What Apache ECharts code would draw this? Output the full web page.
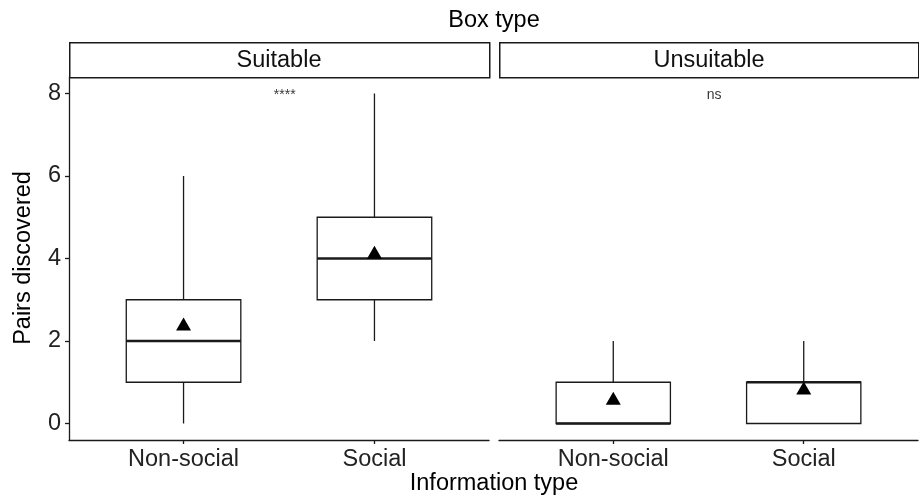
<!DOCTYPE html>
<html>
<head>
    <meta charset="utf-8">
    <title>Pairs discovered</title>
    <script src="https://cdn.jsdelivr.net/npm/echarts@6/dist/echarts.min.js"></script>
    <style>
        html, body { margin: 0; padding: 0; background: #fff; }
        #main { width: 919px; height: 499px; }
    </style>
</head>
<body>
    <div id="main"></div>
    <script type="text/javascript">
        var categories = ['Non-social', 'Social'];
        var panels = ['Suitable', 'Unsuitable'];
        var yTicks = [0, 2, 4, 6, 8];
        // [x, lower whisker, Q1, median, Q3, upper whisker]
        var suitableBoxes = [[1, 0, 1, 2, 3, 6], [2, 2, 3, 4, 5, 8]];
        var unsuitableBoxes = [[1, 0, 0, 0, 1, 2], [2, 0, 0, 1, 1, 2]];
        // mean markers
        var suitableMeans = [[1, 2.41], [2, 4.15]];
        var unsuitableMeans = [[1, 0.61], [2, 0.86]];
        // significance labels
        var suitableSig = [[1.53, 7.95, '****']];
        var unsuitableSig = [[1.53, 7.95, 'ns']];

        var FONT = "'Liberation Sans', Arial, sans-serif";
        var FS = 23.5;
        var INK = '#1a1a1a';

        var myChart = echarts.init(document.getElementById('main'));

        function renderBox(params, api) {
            var x = api.value(0);
            var lo = api.value(1), q1 = api.value(2), med = api.value(3), q3 = api.value(4), hi = api.value(5);
            var w = api.size([0.6, 0])[0];
            var pLo = api.coord([x, lo]), pQ1 = api.coord([x, q1]), pMed = api.coord([x, med]);
            var pQ3 = api.coord([x, q3]), pHi = api.coord([x, hi]);
            var lineStyle = { stroke: INK, lineWidth: 1.3, fill: null };
            var children = [];
            if (hi > q3) {
                children.push({ type: 'line', shape: { x1: pQ3[0], y1: pQ3[1], x2: pHi[0], y2: pHi[1] }, style: lineStyle });
            }
            if (lo < q1) {
                children.push({ type: 'line', shape: { x1: pLo[0], y1: pLo[1], x2: pQ1[0], y2: pQ1[1] }, style: lineStyle });
            }
            children.push({
                type: 'rect',
                shape: { x: pQ1[0] - w / 2, y: pQ3[1], width: w, height: pQ1[1] - pQ3[1] },
                style: { stroke: INK, lineWidth: 1.3, fill: '#fff' }
            });
            children.push({
                type: 'line',
                shape: { x1: pMed[0] - w / 2, y1: pMed[1], x2: pMed[0] + w / 2, y2: pMed[1] },
                style: { stroke: INK, lineWidth: 2.6 }
            });
            return { type: 'group', children: children };
        }

        function xAxisFor(gridIndex) {
            return {
                type: 'value',
                gridIndex: gridIndex,
                min: 0.4,
                max: 2.6,
                splitLine: { show: false },
                axisLine: { show: true, onZero: false, lineStyle: { color: INK, width: 1.3 } },
                axisTick: { show: true, length: 4, customValues: [1, 2], lineStyle: { color: INK, width: 1.3 } },
                axisLabel: {
                    customValues: [1, 2],
                    margin: 8,
                    color: '#222',
                    fontSize: FS,
                    fontFamily: FONT,
                    formatter: function (v) { return categories[Math.round(v) - 1]; }
                }
            };
        }

        function yAxisFor(gridIndex, visible) {
            return {
                type: 'value',
                gridIndex: gridIndex,
                min: -0.4,
                max: 8.4,
                splitLine: { show: false },
                axisLine: { show: visible, onZero: false, lineStyle: { color: INK, width: 1.3 } },
                axisTick: { show: visible, length: 4, customValues: yTicks, lineStyle: { color: INK, width: 1.3 } },
                axisLabel: {
                    show: visible,
                    customValues: yTicks,
                    margin: 8,
                    color: '#222',
                    fontSize: FS,
                    fontFamily: FONT
                }
            };
        }

        function sigSeries(idx, data) {
            return {
                type: 'scatter',
                xAxisIndex: idx,
                yAxisIndex: idx,
                data: data,
                symbolSize: 0,
                silent: true,
                label: {
                    show: true,
                    position: 'inside',
                    color: '#000',
                    fontSize: 14,
                    fontFamily: FONT,
                    formatter: function (p) { return p.value[2]; }
                }
            };
        }

        function meanSeries(idx, data) {
            return {
                type: 'scatter',
                xAxisIndex: idx,
                yAxisIndex: idx,
                data: data,
                symbol: 'triangle',
                symbolSize: [15, 13],
                itemStyle: { color: '#000', opacity: 1 },
                z: 5
            };
        }

        var option = {
            animation: false,
            textStyle: { fontFamily: FONT },
            grid: [
                { left: 69, right: 430, top: 77, bottom: 59 },
                { left: 499, right: 1, top: 77, bottom: 59 }
            ],
            xAxis: [xAxisFor(0), xAxisFor(1)],
            yAxis: [yAxisFor(0, true), yAxisFor(1, false)],
            graphic: [
                { type: 'text', x: 494, y: 21, style: { text: 'Box type', fontSize: FS, fontFamily: FONT, fill: '#000', align: 'center', verticalAlign: 'middle' } },
                { type: 'rect', left: 69, top: 42, shape: { width: 420, height: 35 }, style: { fill: '#fff', stroke: INK, lineWidth: 1.5 } },
                { type: 'rect', left: 499, top: 42, shape: { width: 419, height: 35 }, style: { fill: '#fff', stroke: INK, lineWidth: 1.5 } },
                { type: 'text', x: 279, y: 61, style: { text: panels[0], fontSize: FS, fontFamily: FONT, fill: '#111', align: 'center', verticalAlign: 'middle' } },
                { type: 'text', x: 709, y: 61, style: { text: panels[1], fontSize: FS, fontFamily: FONT, fill: '#111', align: 'center', verticalAlign: 'middle' } },
                { type: 'text', x: 494, y: 484, style: { text: 'Information type', fontSize: FS, fontFamily: FONT, fill: '#000', align: 'center', verticalAlign: 'middle' } },
                { type: 'text', x: 24, y: 258, rotation: Math.PI / 2, style: { text: 'Pairs discovered', fontSize: FS, fontFamily: FONT, fill: '#000', align: 'center', verticalAlign: 'middle' } }
            ],
            series: [
                { type: 'custom', xAxisIndex: 0, yAxisIndex: 0, renderItem: renderBox, data: suitableBoxes, silent: true },
                { type: 'custom', xAxisIndex: 1, yAxisIndex: 1, renderItem: renderBox, data: unsuitableBoxes, silent: true },
                meanSeries(0, suitableMeans),
                meanSeries(1, unsuitableMeans),
                sigSeries(0, suitableSig),
                sigSeries(1, unsuitableSig)
            ]
        };

        myChart.setOption(option);
    </script>
</body>
</html>
